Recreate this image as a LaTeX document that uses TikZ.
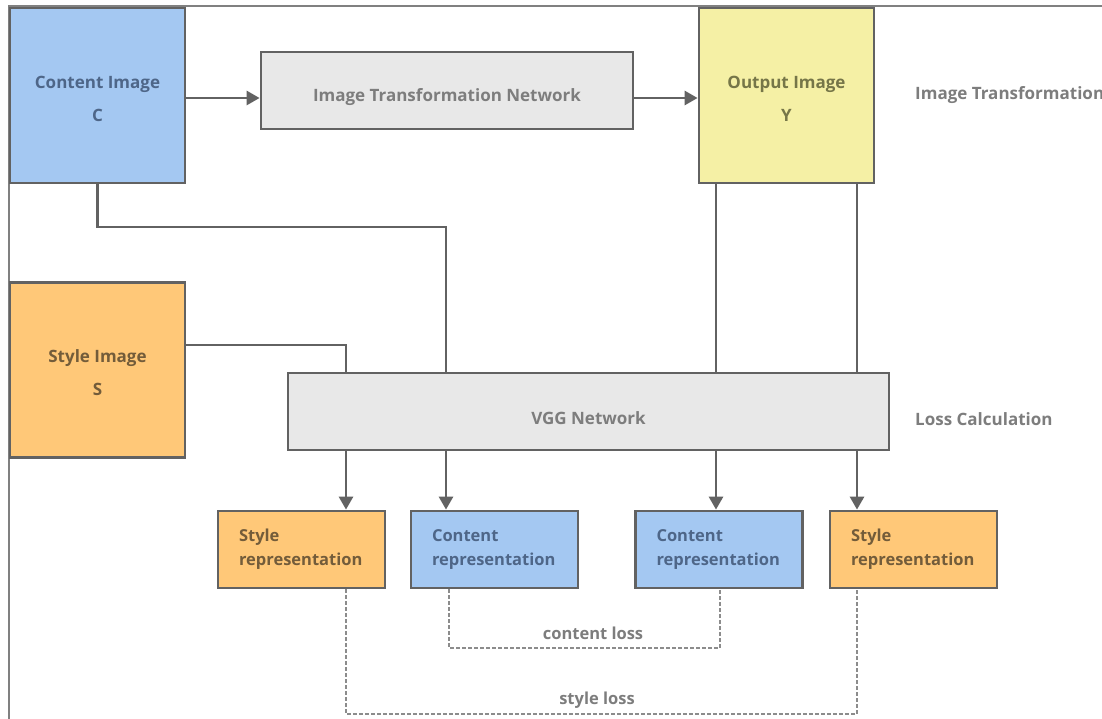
\documentclass[tikz,border=0pt]{standalone}
\usepackage{fontspec}
\setmainfont{Open Sans}
\usetikzlibrary{arrows.meta,calc}
\definecolor{linegray}{RGB}{98,98,98}
\definecolor{framegray}{RGB}{128,128,128}
\definecolor{dashgray}{RGB}{140,140,140}
\definecolor{fillblue}{RGB}{164,200,242}
\definecolor{fillyellow}{RGB}{245,240,165}
\definecolor{fillorange}{RGB}{255,200,120}
\definecolor{fillgray}{RGB}{232,232,232}
\definecolor{txtblue}{RGB}{78,102,136}
\definecolor{txtyellow}{RGB}{118,118,72}
\definecolor{txtorange}{RGB}{115,92,58}
\definecolor{txtgray}{RGB}{125,125,125}
\newcommand{\topstrut}[1]{\rule{0pt}{#1}}
\tikzset{
  box/.style={draw=linegray, line width=2.8pt, rectangle, inner sep=0pt, align=center},
  bigbox/.style={box, minimum width=175pt, minimum height=175pt, font=\fontsize{17}{18}\selectfont\bfseries},
  netbox/.style={box, fill=fillgray, text=txtgray, minimum height=77pt, font=\fontsize{17}{18}\selectfont\bfseries},
  repbox/.style={box, minimum height=77pt, text width=125pt, inner xsep=21pt, align=left, font=\fontsize{16.5}{24}\selectfont\bfseries},
  conn/.style={draw=linegray, line width=2.8pt},
  arr/.style={conn, -{Triangle[length=13pt,width=14pt]}},
  lossline/.style={draw=dashgray, line width=1.6pt, dash pattern=on 3.5pt off 2.5pt},
  sidelabel/.style={anchor=west, text=txtgray, font=\fontsize{17}{18}\selectfont\bfseries, inner sep=0pt},
  losslabel/.style={text=txtgray, font=\fontsize{16.5}{18}\selectfont\bfseries, inner sep=0pt}
}
\begin{document}
\begin{tikzpicture}[x=1pt,y=-1pt]
\useasboundingbox (0,0) rectangle (1102,719);
\fill[white] (0,0) rectangle (1102,719);
% frame
\draw[framegray, line width=2.4pt] (9,719) -- (9,6) -- (1102,6);

% nodes
\node[bigbox, fill=fillblue, text=txtblue] (ci) at (97.5,95.5) {\topstrut{19pt}Content Image\\[15pt]C};
\node[netbox, minimum width=372pt] (itn) at (447,90.5) {\topstrut{26pt}Image Transformation Network};
\node[bigbox, fill=fillyellow, text=txtyellow] (oi) at (786.5,95.5) {\topstrut{19pt}Output Image\\[15pt]Y};
\node[bigbox, fill=fillorange, text=txtorange] (si) at (97.5,370) {\topstrut{19pt}Style Image\\[15pt]S};
\node[netbox, minimum width=601pt] (vgg) at (588.5,411.5) {\topstrut{26pt}VGG Network};

\node[repbox, fill=fillorange, text=txtorange] (sr1) at (301.5,549.5) {Style\\representation};
\node[repbox, fill=fillblue, text=txtblue] (cr1) at (494.5,549.5) {Content\\representation};
\node[repbox, fill=fillblue, text=txtblue] (cr2) at (719,549.5) {Content\\representation};
\node[repbox, fill=fillorange, text=txtorange] (sr2) at (913.5,549.5) {Style\\representation};

\node[sidelabel] (lt) at (915,95) {Image Transformation};
\node[sidelabel] (ll) at (915,419) {Loss Calculation};

% connector coordinates
\coordinate (xs1) at (346,345);
\coordinate (xc1) at (446,227);
\coordinate (xc2) at (716,0);
\coordinate (xs2) at (857,0);

% top row
\draw[arr] (ci.east |- 0,98) -- (itn.west |- 0,98);
\draw[arr] (itn.east |- 0,98) -- (oi.west |- 0,98);

% into VGG
\draw[conn] (ci.south) |- (xc1) -- (xc1 |- vgg.north);
\draw[conn] (si.east |- xs1) -- (xs1) -- (xs1 |- vgg.north);
\draw[conn] (xc2 |- oi.south) -- (xc2 |- vgg.north);
\draw[conn] (xs2 |- oi.south) -- (xs2 |- vgg.north);

% out of VGG
\draw[arr] (xs1 |- vgg.south) -- (xs1 |- sr1.north);
\draw[arr] (xc1 |- vgg.south) -- (xc1 |- cr1.north);
\draw[arr] (xc2 |- vgg.south) -- (xc2 |- cr2.north);
\draw[arr] (xs2 |- vgg.south) -- (xs2 |- sr2.north);

% losses
\coordinate (cl1) at (449,648);
\coordinate (cl2) at (720,648);
\coordinate (sl1) at (346,714);
\coordinate (sl2) at (857,714);
\draw[lossline] (cl1 |- cr1.south) -- (cl1) -- (cl2) -- (cl2 |- cr2.south);
\draw[lossline] (sl1 |- sr1.south) -- (sl1) -- (sl2) -- (sl2 |- sr2.south);
\node[losslabel] (cll) at (593,633) {content loss};
\node[losslabel] (sll) at (597,700) {style loss};
\end{tikzpicture}
\end{document}
